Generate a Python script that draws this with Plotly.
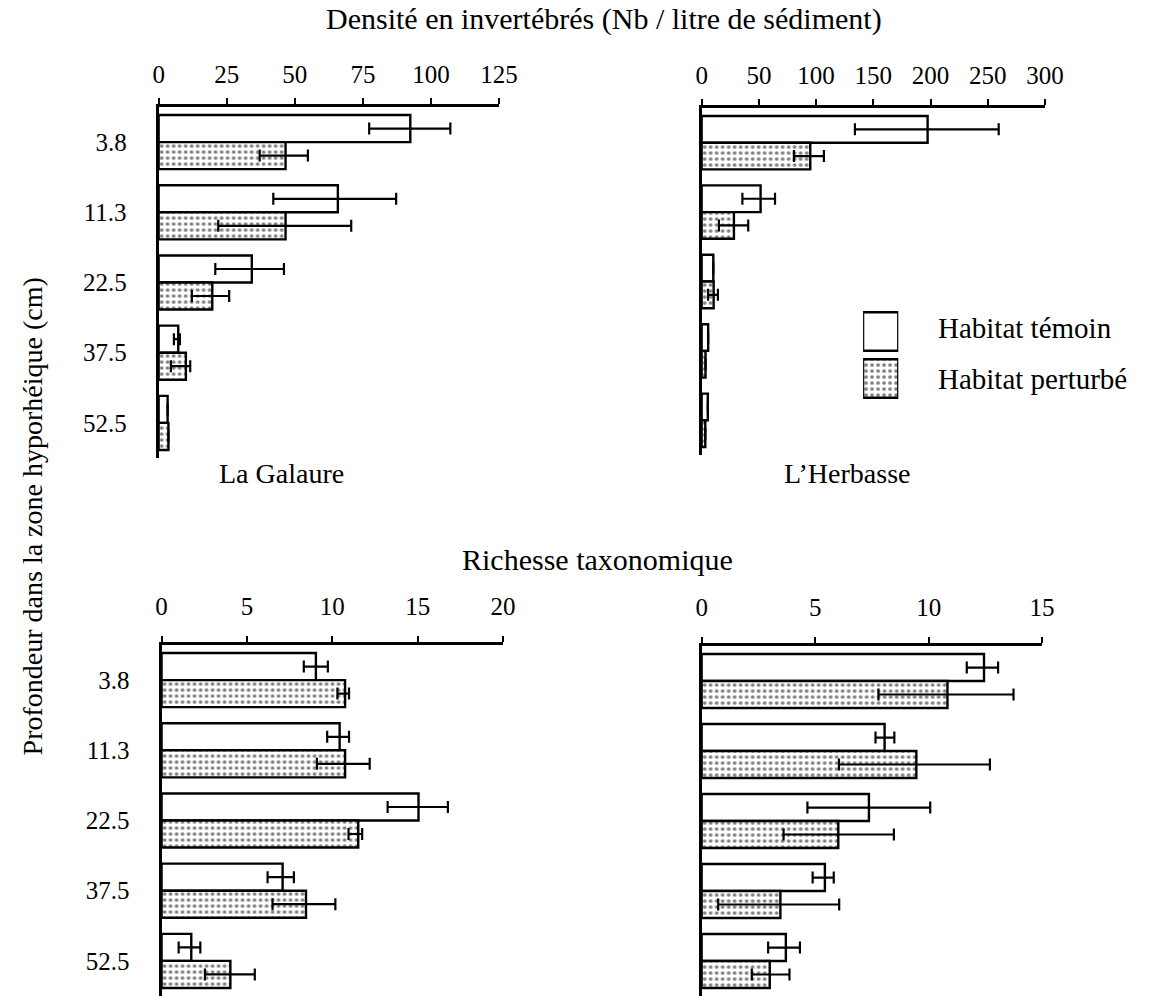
import plotly.graph_objects as go

W, H = 1157, 996
FONT = "Liberation Serif, Times New Roman, serif"

depths = ["3.8", "11.3", "22.5", "37.5", "52.5"]

# Densité en invertébrés — La Galaure
gal_dens_tem = [92.4, 65.8, 34.2, 7.2, 3.3]
gal_dens_tem_minus = [15.1, 23.7, 13.4, 1.6, 0]
gal_dens_tem_plus = [14.7, 21.4, 11.8, 0.6, 0]
gal_dens_per = [46.6, 46.6, 19.7, 10.0, 3.6]
gal_dens_per_minus = [9.5, 24.7, 7.5, 5.5, 0]
gal_dens_per_plus = [8.2, 24.1, 6.2, 1.6, 0]

# Densité en invertébrés — L'Herbasse
her_dens_tem = [197.4, 51.5, 10.2, 5.7, 5.4]
her_dens_tem_minus = [63.5, 15.9, 0, 0, 0]
her_dens_tem_plus = [62.1, 12.6, 0, 0, 0]
her_dens_per = [94.9, 28.2, 10.5, 3.4, 3.2]
her_dens_per_minus = [14.3, 13.1, 4.9, 0, 0]
her_dens_per_plus = [11.9, 12.5, 3.7, 0, 0]

# Richesse taxonomique — La Galaure
gal_rich_tem = [9.04, 10.43, 15.05, 7.09, 1.74]
gal_rich_tem_minus = [0.71, 0.73, 1.81, 0.88, 0.74]
gal_rich_tem_plus = [0.70, 0.55, 1.72, 0.66, 0.53]
gal_rich_per = [10.75, 10.75, 11.52, 8.46, 4.03]
gal_rich_per_minus = [0.45, 1.65, 0.57, 1.96, 1.49]
gal_rich_per_plus = [0.23, 1.44, 0.23, 1.72, 1.43]

# Richesse taxonomique — L'Herbasse
her_rich_tem = [12.44, 8.06, 7.37, 5.43, 3.71]
her_rich_tem_minus = [0.76, 0.40, 2.71, 0.54, 0.78]
her_rich_tem_plus = [0.62, 0.43, 2.70, 0.39, 0.62]
her_rich_per = [10.83, 9.46, 6.02, 3.47, 3.00]
her_rich_per_minus = [3.04, 3.41, 2.41, 2.74, 0.79]
her_rich_per_plus = [2.91, 3.24, 2.45, 2.59, 0.87]

x_ticks_gal_dens = [0, 25, 50, 75, 100, 125]
x_ticks_her_dens = [0, 50, 100, 150, 200, 250, 300]
x_ticks_gal_rich = [0, 5, 10, 15, 20]
x_ticks_her_rich = [0, 5, 10, 15]

legend_labels = ["Habitat témoin", "Habitat perturbé"]
legend_values = [1, 1]

fig = go.Figure()

pattern_dots = dict(shape=".", fgcolor="black", bgcolor="white", size=6, solidity=0.3)
pattern_none = dict(shape="", fgcolor="black", bgcolor="white")
bar_line = dict(color="black", width=2.4)


def add_pair(xa, ya, tem, tm, tp, per, pm, pp):
    fig.add_trace(go.Bar(
        y=depths, x=tem, orientation="h", xaxis=xa, yaxis=ya,
        marker=dict(color="white", line=bar_line, pattern=pattern_none),
        error_x=dict(type="data", symmetric=False, array=tp, arrayminus=tm,
                     color="black", thickness=2.2, width=6),
        showlegend=False, name="Habitat témoin"))
    fig.add_trace(go.Bar(
        y=depths, x=per, orientation="h", xaxis=xa, yaxis=ya,
        marker=dict(color="white", line=bar_line, pattern=pattern_dots),
        error_x=dict(type="data", symmetric=False, array=pp, arrayminus=pm,
                     color="black", thickness=2.2, width=6),
        showlegend=False, name="Habitat perturbé"))


add_pair("x", "y", gal_dens_tem, gal_dens_tem_minus, gal_dens_tem_plus,
         gal_dens_per, gal_dens_per_minus, gal_dens_per_plus)
add_pair("x2", "y2", her_dens_tem, her_dens_tem_minus, her_dens_tem_plus,
         her_dens_per, her_dens_per_minus, her_dens_per_plus)
add_pair("x3", "y3", gal_rich_tem, gal_rich_tem_minus, gal_rich_tem_plus,
         gal_rich_per, gal_rich_per_minus, gal_rich_per_plus)
add_pair("x4", "y4", her_rich_tem, her_rich_tem_minus, her_rich_tem_plus,
         her_rich_per, her_rich_per_minus, her_rich_per_plus)

# legend swatches on a small hidden axis
fig.add_trace(go.Bar(
    y=legend_labels, x=legend_values, orientation="h", xaxis="x5", yaxis="y5",
    width=0.82,
    marker=dict(color="white", line=dict(color="black", width=2.4),
                pattern=dict(shape=["", "."], fgcolor="black", bgcolor="white",
                             size=6, solidity=0.3)),
    showlegend=False, hoverinfo="skip"))


def px_x(a, b):
    return [a / W, b / W]


def px_y(top, bottom):
    return [max(0, 1 - bottom / H), 1 - top / H]


tickfont = dict(family=FONT, size=25, color="black")


def xaxis(domain, anchor, rng, ticks, standoff):
    return dict(domain=domain, anchor=anchor, side="top", range=rng,
                tickvals=ticks, ticktext=[str(t) for t in ticks],
                showline=True, linecolor="black", linewidth=2.5,
                ticks="outside", ticklen=6, tickwidth=2, tickcolor="black",
                tickfont=tickfont, ticklabelstandoff=standoff,
                showgrid=False, zeroline=False, fixedrange=True)


def yaxis(domain, anchor, labels):
    return dict(domain=domain, anchor=anchor, type="category",
                categoryorder="array", categoryarray=depths,
                range=[4.5, -0.5], showline=True, linecolor="black", linewidth=3,
                ticks="", showticklabels=labels, tickfont=tickfont,
                ticklabelstandoff=24, showgrid=False, zeroline=False, fixedrange=True)


fig.update_layout(
    width=W, height=H, margin=dict(l=0, r=0, t=0, b=0),
    paper_bgcolor="white", plot_bgcolor="white",
    barmode="group", bargap=0.23, bargroupgap=0,
    font=dict(family=FONT, color="black"),
    xaxis=xaxis(px_x(156, 504), "y", [0, 125], x_ticks_gal_dens, 5),
    yaxis=yaxis(px_y(107, 458), "x", True),
    xaxis2=xaxis(px_x(711, 1062), "y2", [0, 300], x_ticks_her_dens, 5),
    yaxis2=yaxis(px_y(108, 455), "x2", False),
    xaxis3=xaxis(px_x(159, 508), "y3", [0, 20], x_ticks_gal_rich, 11),
    yaxis3=yaxis(px_y(645, 997), "x3", True),
    xaxis4=xaxis(px_x(711, 1059), "y4", [0, 15], x_ticks_her_rich, 11),
    yaxis4=yaxis(px_y(646, 997), "x4", False),
    xaxis5=dict(domain=px_x(876, 912), anchor="y5", range=[0, 1], visible=False, fixedrange=True),
    yaxis5=dict(domain=px_y(308, 402), anchor="x5", type="category",
                categoryorder="array", categoryarray=legend_labels,
                range=[1.5, -0.5], visible=False, fixedrange=True),
)


def ann(text, x, y, size, xanchor="center", textangle=0):
    fig.add_annotation(text=text, x=x / W, y=1 - y / H, xref="paper", yref="paper",
                       xanchor=xanchor, yanchor="middle", showarrow=False,
                       font=dict(family=FONT, size=size, color="black"),
                       textangle=textangle)


ann("Densité en invertébrés (Nb / litre de sédiment)", 611, 19, 30)
ann("Richesse taxonomique", 605, 559, 30)
ann("La Galaure", 282, 474, 28)
ann("L’Herbasse", 860, 473, 28)
ann("Profondeur dans la zone hyporhéique (cm)", 27, 516, 28, textangle=-90)
ann(legend_labels[0], 951, 328, 29, xanchor="left")
ann(legend_labels[1], 951, 379, 29, xanchor="left")

fig.write_html("out.html")
